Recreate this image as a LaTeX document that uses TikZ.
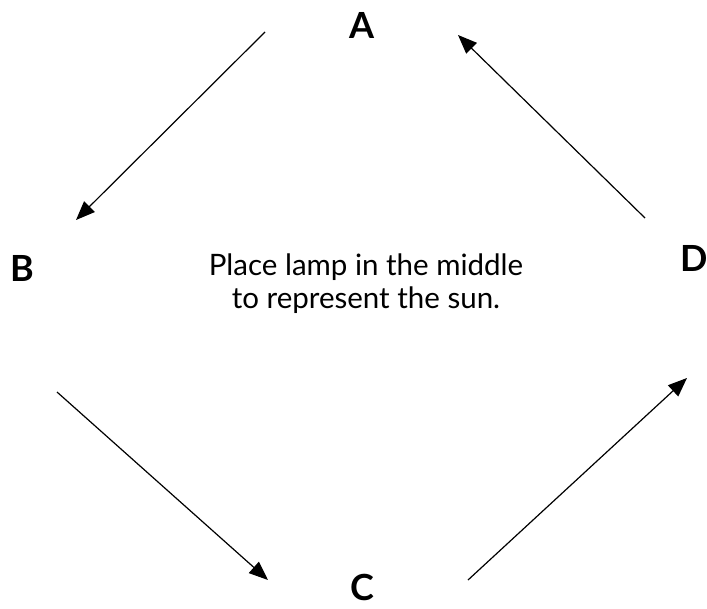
\documentclass[tikz,border=0pt]{standalone}
\usepackage{fontspec}
\setmainfont{Lato}
\usetikzlibrary{arrows.meta}
\begin{document}
\begin{tikzpicture}[x=1pt,y=-1pt,
  letter/.style={font=\fontsize{36}{38}\selectfont\bfseries, inner sep=0pt},
  orbit/.style={line width=1.2pt, -{Triangle[length=19pt,width=15pt]}},
  caption/.style={font=\fontsize{29.5}{33}\selectfont, align=center, inner sep=0pt}]
\useasboundingbox (0,0) rectangle (707,608);
\node[letter] (A) at (362,25) {A};
\node[letter] (B) at (22,268) {B};
\node[letter] (C) at (362,587) {C};
\node[letter] (D) at (694,258) {D};
\node[caption] (T) at (366,284) {Place lamp in the middle\\to represent the sun.};
\coordinate (a1) at (265,32);
\coordinate (b1) at (76,220);
\coordinate (b2) at (57,392);
\coordinate (c1) at (268,580);
\coordinate (c2) at (468,580);
\coordinate (d1) at (687,378);
\coordinate (d2) at (645,218);
\coordinate (a2) at (458,35);
\draw[orbit] (a1) -- (b1);
\draw[orbit] (b2) -- (c1);
\draw[orbit] (c2) -- (d1);
\draw[orbit] (d2) -- (a2);
\end{tikzpicture}
\end{document}
